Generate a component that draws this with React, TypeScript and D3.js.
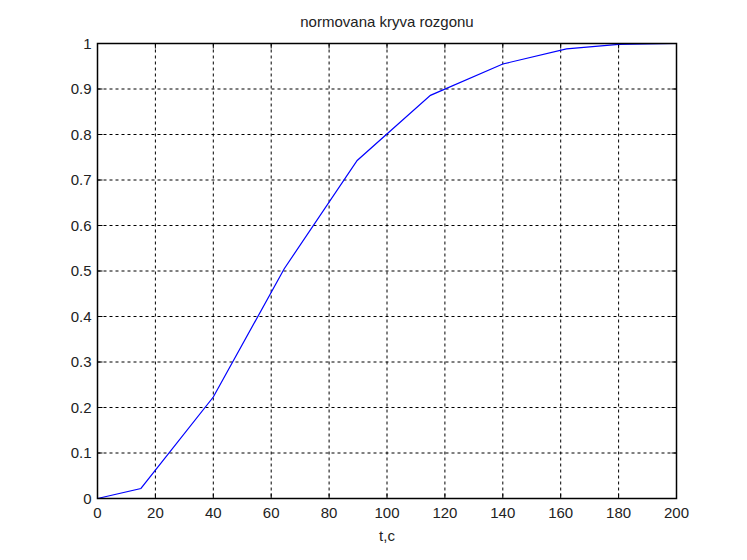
import React from "react";
import * as d3 from "d3";

const tValues = [0, 15, 40, 64.5, 89.7, 115, 140, 162, 180, 200];
const yValues = [0, 0.022, 0.223, 0.505, 0.743, 0.886, 0.955, 0.988, 0.998, 1.0];
const xTicks = [0, 20, 40, 60, 80, 100, 120, 140, 160, 180, 200];
const yTicks = [0, 0.1, 0.2, 0.3, 0.4, 0.5, 0.6, 0.7, 0.8, 0.9, 1];
const title = "normovana kryva rozgonu";
const xLabel = "t,c";

export default function App() {
  const W = 747, H = 560;
  const left = 97.5, right = 676.5, top = 43.5, bottom = 498.5;
  const x = d3.scaleLinear().domain([0, 200]).range([left, right]);
  const y = d3.scaleLinear().domain([0, 1]).range([bottom, top]);
  const line = d3.line<number>().x((_, i) => x(tValues[i])).y((d) => y(d));
  const font = "'Liberation Sans', Arial, sans-serif";
  const tick = 5;
  return (
    <svg width={W} height={H} style={{ position: "absolute", left: 0, top: 0, background: "#fff" }}>
      <rect x={0} y={0} width={W} height={H} fill="#fff" />
      {xTicks.slice(1, -1).map((t) => (
        <line key={"gx" + t} x1={x(t)} x2={x(t)} y1={top} y2={bottom} stroke="#000" strokeWidth={1} strokeDasharray="3,3" />
      ))}
      {yTicks.slice(1, -1).map((t) => (
        <line key={"gy" + t} x1={left} x2={right} y1={y(t)} y2={y(t)} stroke="#000" strokeWidth={1} strokeDasharray="3,3" />
      ))}
      {xTicks.map((t) => (
        <g key={"tx" + t}>
          <line x1={x(t)} x2={x(t)} y1={bottom} y2={bottom - tick} stroke="#000" />
          <line x1={x(t)} x2={x(t)} y1={top} y2={top + tick} stroke="#000" />
          <text x={x(t)} y={bottom + 19} textAnchor="middle" fontFamily={font} fontSize={15} fill="#222">{t}</text>
        </g>
      ))}
      {yTicks.map((t) => (
        <g key={"ty" + t}>
          <line x1={left} x2={left + tick} y1={y(t)} y2={y(t)} stroke="#000" />
          <line x1={right} x2={right - tick} y1={y(t)} y2={y(t)} stroke="#000" />
          <text x={left - 6} y={y(t) + 5} textAnchor="end" fontFamily={font} fontSize={15} fill="#222">{String(t)}</text>
        </g>
      ))}
      <path d={line(yValues) || ""} fill="none" stroke="#0000ff" strokeWidth={1.2} />
      <rect x={left} y={top} width={right - left} height={bottom - top} fill="none" stroke="#000" strokeWidth={1.5} />
      <text x={(left + right) / 2} y={27} textAnchor="middle" fontFamily={font} fontSize={15} fill="#222">{title}</text>
      <text x={(left + right) / 2} y={541} textAnchor="middle" fontFamily={font} fontSize={15} fill="#222">{xLabel}</text>
    </svg>
  );
}
